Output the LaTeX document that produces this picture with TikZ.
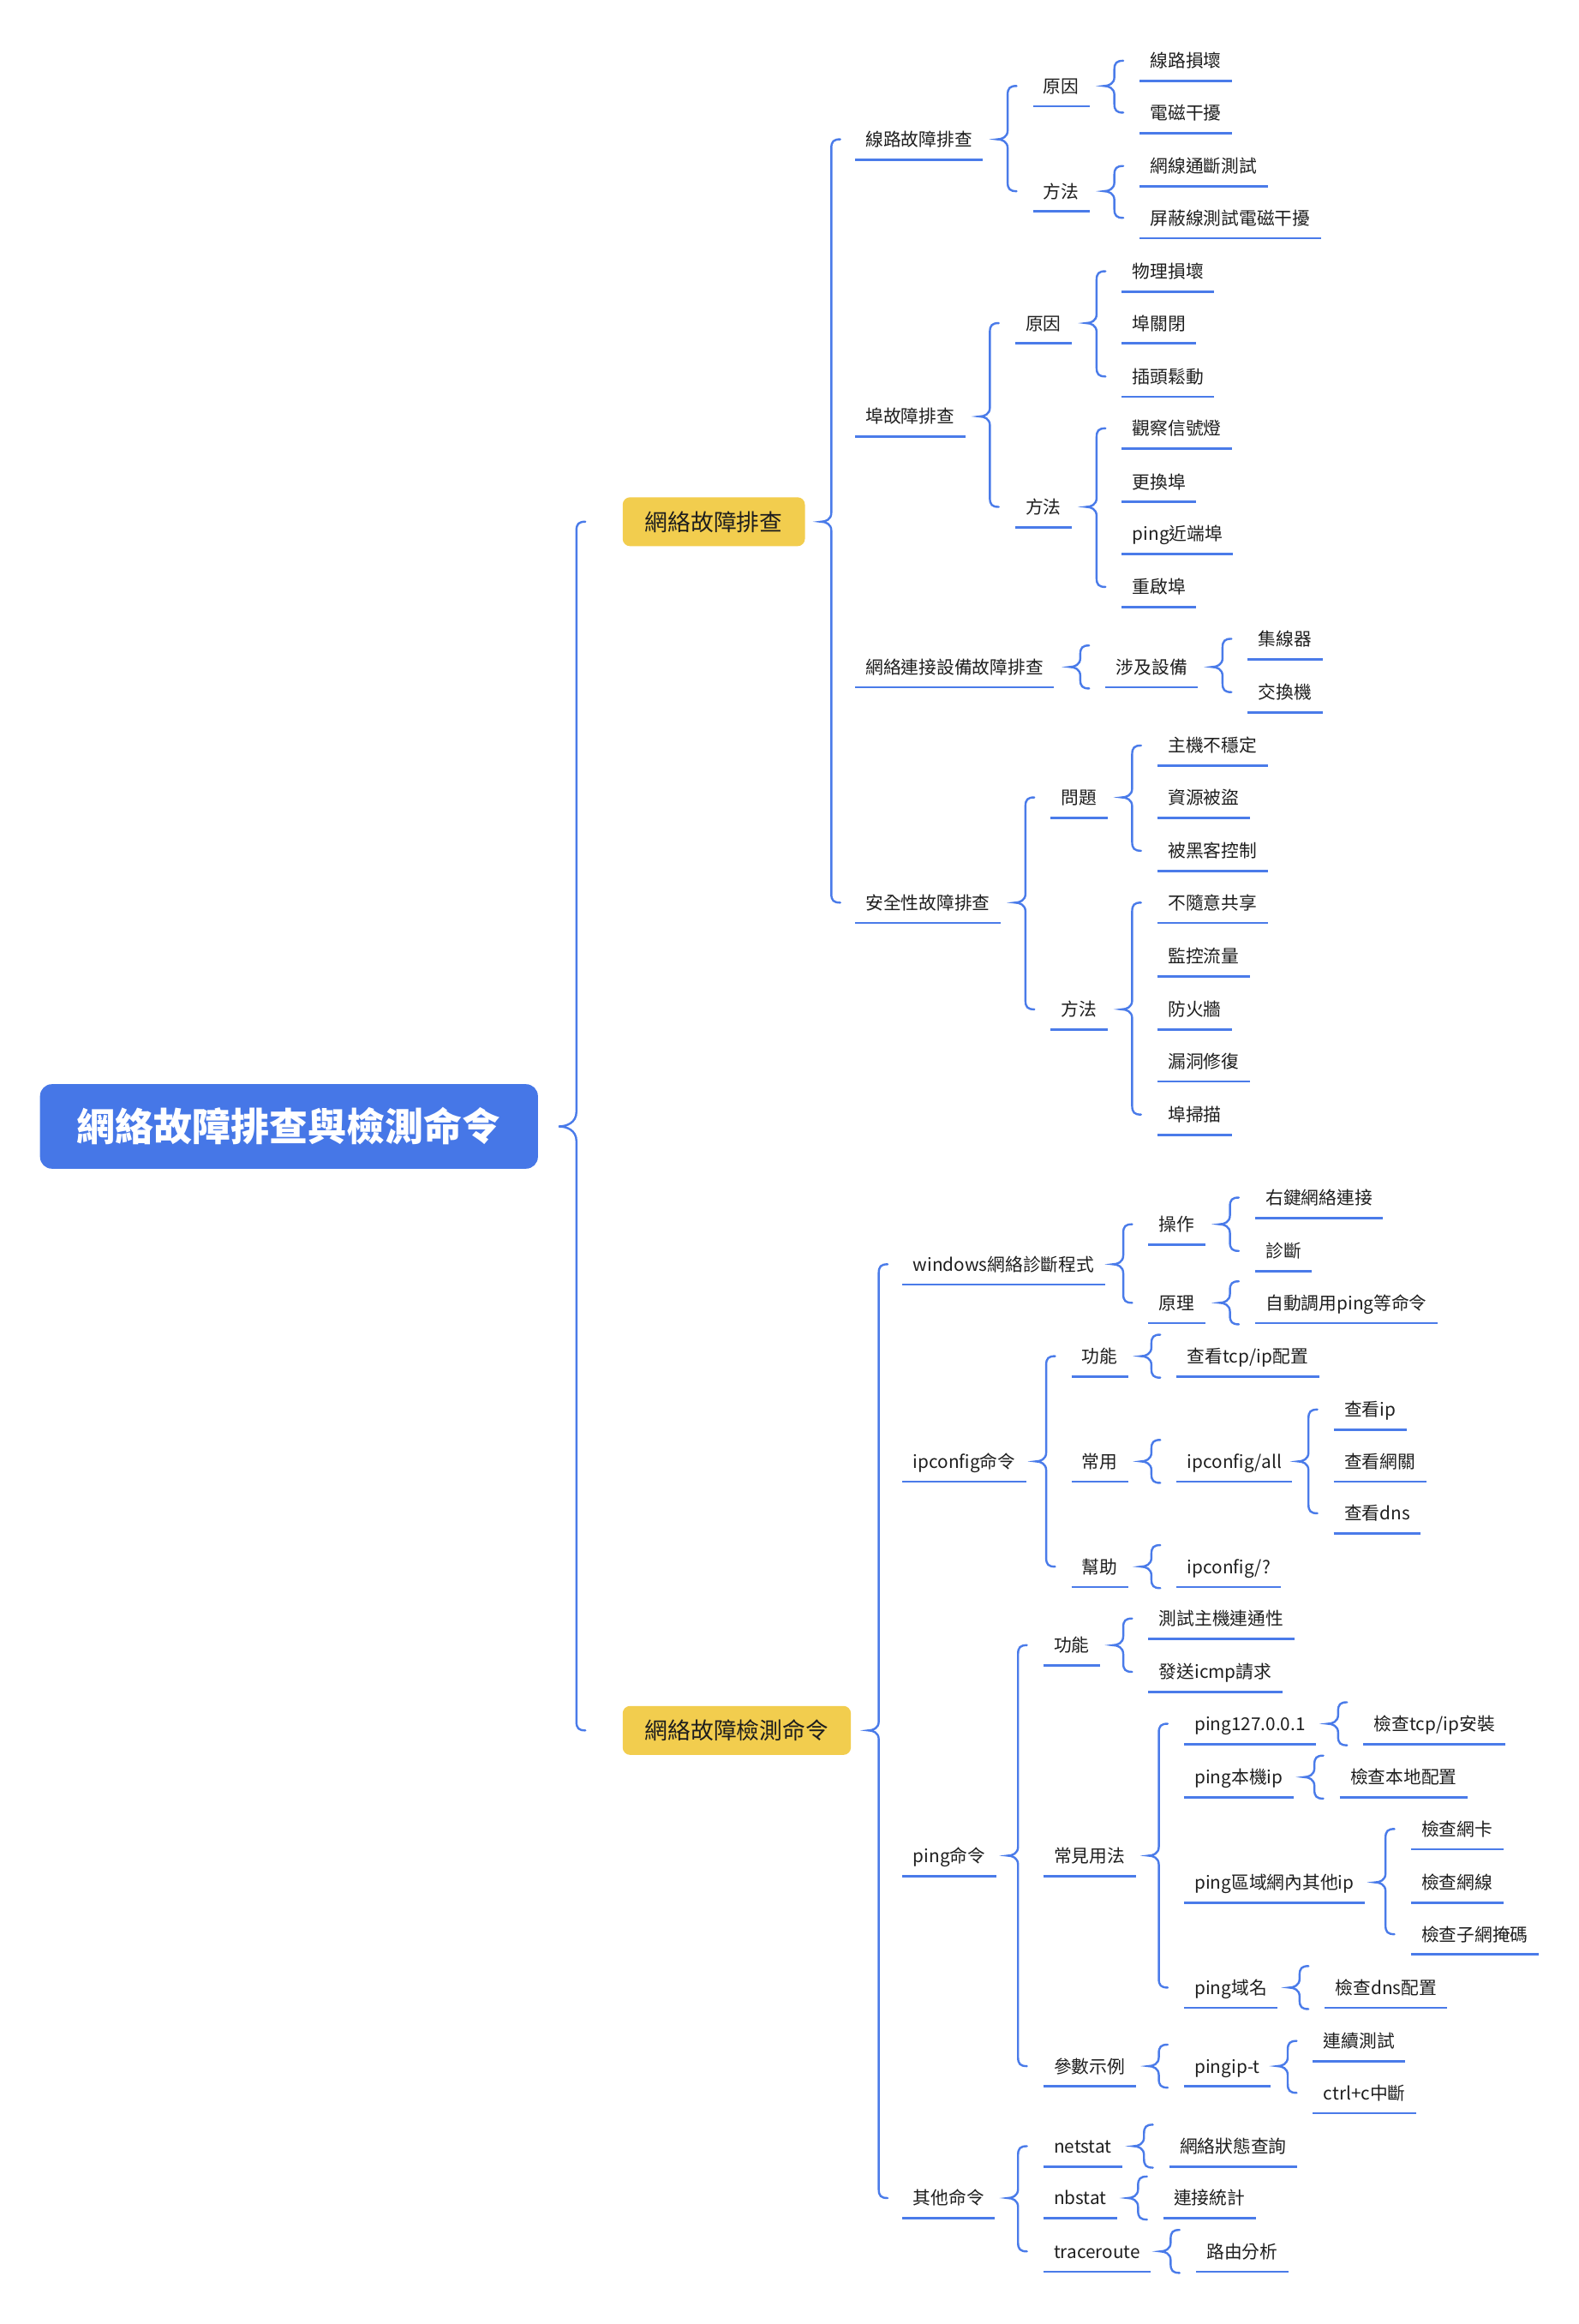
\documentclass[tikz,border=0pt]{standalone}
\usepackage{fontspec}
\setmainfont{Noto Sans CJK TC}
\usepackage{xcolor}
\usetikzlibrary{calc}

\definecolor{rootblue}{HTML}{4677E7}
\definecolor{linkblue}{HTML}{4A7BE9}
\definecolor{topicyellow}{HTML}{F2CD4E}
\definecolor{textdark}{HTML}{1E1E1E}

% brace from a parent node to its first and last child
\def\bracetip{7pt}
\def\bracetipy{6pt}
\newcommand{\mapbrace}[4][17pt]{%
  \draw[bline] let \p1=(#2), \p2=(#3.west), \p3=(#4.west),
    \n1={\x2-#1}, \n2={max(\y2,\y1+14.5pt)}, \n3={min(\y3,\y1-14.5pt)} in
    ({\n1+6pt},\n2) .. controls ({\n1+1.5pt},\n2) and (\n1,{\n2-1.5pt}) .. (\n1,{\n2-6pt})
    -- (\n1,{\y1+\bracetipy})
    .. controls (\n1,{\y1+0.25*\bracetipy}) and ({\n1-0.55*\bracetip},\y1) .. ({\n1-\bracetip},\y1)
    .. controls ({\n1-0.55*\bracetip},\y1) and (\n1,{\y1-0.25*\bracetipy}) .. (\n1,{\y1-\bracetipy})
    -- (\n1,{\n3+6pt})
    .. controls (\n1,{\n3+1.5pt}) and ({\n1+1.5pt},\n3) .. ({\n1+6pt},\n3);
}

\begin{document}
\begin{tikzpicture}[
    x=1pt, y=-1pt,
    root/.style={rectangle, rounded corners=8pt, fill=rootblue, text=white,
      minimum width=336pt, minimum height=57pt, inner sep=0pt,
      font=\fontsize{26pt}{30pt}\selectfont\bfseries, text height=21.9pt, text depth=2.1pt},
    topic/.style={rectangle, rounded corners=5pt, fill=topicyellow, text=textdark, anchor=west,
      minimum height=33pt, inner xsep=15pt, inner ysep=0pt,
      font=\fontsize{15.5pt}{18pt}\selectfont, text height=12.9pt, text depth=1.1pt},
    leaf/.style={anchor=west, inner xsep=7pt, inner ysep=7.5pt, text=textdark,
      font=\fontsize{12pt}{14pt}\selectfont, text height=10.6pt, text depth=1.4pt},
    uline/.style={draw=linkblue, line width=1.6pt},
    bline/.style={draw=linkblue, line width=1.4pt, line cap=round},
]
\useasboundingbox (0,0) rectangle (1065,1568);

% Root and main topics
\node[root] (root) at (195,760) {網絡故障排查與檢測命令};
\node[topic] (p1) at (420,352) {網絡故障排查};
\node[topic] (p2) at (420,1167.5) {網絡故障檢測命令};

% Troubleshooting branch
\node[leaf] (a1) at (577,94) {線路故障排查};
\node[leaf] (a2) at (577,281) {埠故障排查};
\node[leaf] (a3) at (577,450) {網絡連接設備故障排查};
\node[leaf] (a4) at (577,609) {安全性故障排查};

\node[leaf] (a11) at (697,58) {原因};
\node[leaf] (a111) at (769,41) {線路損壞};
\node[leaf] (a112) at (769,76) {電磁干擾};
\node[leaf] (a12) at (697,129) {方法};
\node[leaf] (a121) at (769,112) {網線通斷測試};
\node[leaf] (a122) at (769,147) {屏蔽線測試電磁干擾};

\node[leaf] (a21) at (685,218) {原因};
\node[leaf] (a211) at (757,183) {物理損壞};
\node[leaf] (a212) at (757,218) {埠關閉};
\node[leaf] (a213) at (757,254) {插頭鬆動};
\node[leaf] (a22) at (685,342) {方法};
\node[leaf] (a221) at (757,289) {觀察信號燈};
\node[leaf] (a222) at (757,325) {更換埠};
\node[leaf] (a223) at (757,360) {ping近端埠};
\node[leaf] (a224) at (757,396) {重啟埠};

\node[leaf] (a31) at (746,450) {涉及設備};
\node[leaf] (a311) at (842,431) {集線器};
\node[leaf] (a312) at (842,467) {交換機};

\node[leaf] (a41) at (709,538) {問題};
\node[leaf] (a411) at (781,503) {主機不穩定};
\node[leaf] (a412) at (781,538) {資源被盜};
\node[leaf] (a413) at (781,574) {被黑客控制};
\node[leaf] (a42) at (709,681) {方法};
\node[leaf] (a421) at (781,609) {不隨意共享};
\node[leaf] (a422) at (781,645) {監控流量};
\node[leaf] (a423) at (781,681) {防火牆};
\node[leaf] (a424) at (781,716) {漏洞修復};
\node[leaf] (a425) at (781,752) {埠掃描};

% Command branch
\node[leaf] (b1) at (609,853) {windows網絡診斷程式};
\node[leaf] (b2) at (609,986) {ipconfig命令};
\node[leaf] (b3) at (609,1252) {ping命令};
\node[leaf] (b4) at (609,1483) {其他命令};

\node[leaf] (b11) at (775,826) {操作};
\node[leaf] (b111) at (847,808) {右鍵網絡連接};
\node[leaf] (b112) at (847,844) {診斷};
\node[leaf] (b12) at (775,879) {原理};
\node[leaf] (b121) at (847,879) {自動調用ping等命令};

\node[leaf] (b21) at (723,915) {功能};
\node[leaf] (b211) at (794,915) {查看tcp/ip配置};
\node[leaf] (b22) at (723,986) {常用};
\node[leaf] (b221) at (794,986) {ipconfig/all};
\node[leaf] (b2211) at (900,951) {查看ip};
\node[leaf] (b2212) at (900,986) {查看網關};
\node[leaf] (b2213) at (900,1021) {查看dns};
\node[leaf] (b23) at (723,1057) {幫助};
\node[leaf] (b231) at (794,1057) {ipconfig/?};

\node[leaf] (b31) at (704,1110) {功能};
\node[leaf] (b311) at (775,1092) {測試主機連通性};
\node[leaf] (b312) at (775,1128) {發送icmp請求};
\node[leaf] (b32) at (704,1252) {常見用法};
\node[leaf] (b321) at (799,1163) {ping127.0.0.1};
\node[leaf] (b3211) at (920,1163) {檢查tcp/ip安裝};
\node[leaf] (b322) at (799,1199) {ping本機ip};
\node[leaf] (b3221) at (904,1199) {檢查本地配置};
\node[leaf] (b323) at (799,1270) {ping區域網內其他ip};
\node[leaf] (b3231) at (952,1234) {檢查網卡};
\node[leaf] (b3232) at (952,1270) {檢查網線};
\node[leaf] (b3233) at (952,1305) {檢查子網掩碼};
\node[leaf] (b324) at (799,1341) {ping域名};
\node[leaf] (b3241) at (894,1341) {檢查dns配置};
\node[leaf] (b33) at (704,1394) {參數示例};
\node[leaf] (b331) at (799,1394) {pingip-t};
\node[leaf] (b3311) at (886,1377) {連續測試};
\node[leaf] (b3312) at (886,1412) {ctrl+c中斷};

\node[leaf] (b41) at (704,1448) {netstat};
\node[leaf] (b411) at (789,1448) {網絡狀態查詢};
\node[leaf] (b42) at (704,1483) {nbstat};
\node[leaf] (b421) at (785,1483) {連接統計};
\node[leaf] (b43) at (704,1519) {traceroute};
\node[leaf] (b431) at (807,1519) {路由分析};

% Underlines
\foreach \n in {a1,a2,a3,a4,a11,a111,a112,a12,a121,a122,
    a21,a211,a212,a213,a22,a221,a222,a223,a224,a31,a311,a312,
    a41,a411,a412,a413,a42,a421,a422,a423,a424,a425,
    b1,b2,b3,b4,b11,b111,b112,b12,b121,
    b21,b211,b22,b221,b2211,b2212,b2213,b23,b231,
    b31,b311,b312,b32,b321,b3211,b322,b3221,b323,b3231,b3232,b3233,
    b324,b3241,b33,b331,b3311,b3312,b41,b411,b42,b421,b43,b431}
  \draw[uline] (\n.south west) -- (\n.south east);

% Braces
{\def\bracetip{12pt}\def\bracetipy{10pt}\mapbrace[31pt]{root}{p1}{p2}}
\mapbrace[16pt]{p1}{a1}{a4}
\mapbrace[16pt]{p2}{b1}{b4}
\foreach \pa/\fa/\la in {a1/a11/a12, a11/a111/a112, a12/a121/a122,
    a2/a21/a22, a21/a211/a213, a22/a221/a224,
    a3/a31/a31, a31/a311/a312,
    a4/a41/a42, a41/a411/a413, a42/a421/a425,
    b1/b11/b12, b11/b111/b112, b12/b121/b121,
    b2/b21/b23, b21/b211/b211, b22/b221/b221, b221/b2211/b2213, b23/b231/b231,
    b3/b31/b33, b31/b311/b312, b32/b321/b324, b321/b3211/b3211, b322/b3221/b3221,
    b323/b3231/b3233, b324/b3241/b3241, b33/b331/b331, b331/b3311/b3312,
    b4/b41/b43, b41/b411/b411, b42/b421/b421, b43/b431/b431}
  \mapbrace{\pa}{\fa}{\la};

\end{tikzpicture}
\end{document}
